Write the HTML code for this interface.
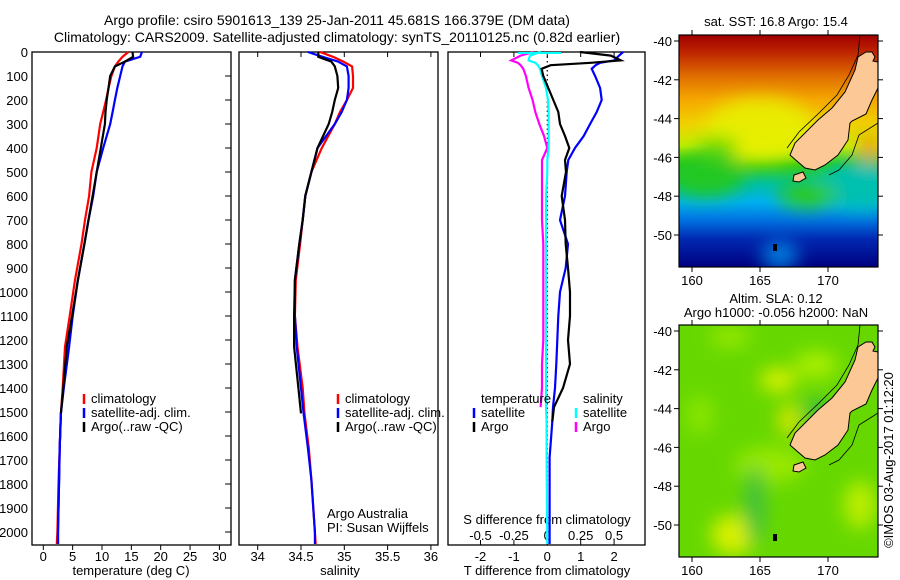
<!DOCTYPE html>
<html><head><meta charset="utf-8"><style>
html,body{margin:0;padding:0;background:#fff;}
svg{display:block;font-family:"Liberation Sans",sans-serif;}
text{font-size:13px;fill:#000;}
</style></head><body>
<svg id="chart" width="900" height="580" viewBox="0 0 900 580">
<defs>
<linearGradient id="sstg" x1="0" y1="0" x2="0" y2="1">
<stop offset="0" stop-color="#a00000"/><stop offset="0.08" stop-color="#c02800"/>
<stop offset="0.18" stop-color="#e07000"/><stop offset="0.28" stop-color="#f5a800"/>
<stop offset="0.38" stop-color="#f0d000"/><stop offset="0.48" stop-color="#c8f000"/>
<stop offset="0.56" stop-color="#30cc10"/><stop offset="0.64" stop-color="#00c0a0"/>
<stop offset="0.72" stop-color="#00b0f0"/><stop offset="0.8" stop-color="#0070e0"/>
<stop offset="0.88" stop-color="#0028b0"/><stop offset="1" stop-color="#000080"/>
</linearGradient>
<filter id="blur" x="-50%" y="-50%" width="200%" height="200%"><feGaussianBlur stdDeviation="9"/></filter>
<clipPath id="m1"><rect x="679" y="35" width="199" height="232"/></clipPath>
<clipPath id="m2"><rect x="679" y="325" width="199" height="232"/></clipPath>
</defs>
<g id="titles">
<text x="337" y="25" text-anchor="middle" style="font-size:14px">Argo profile: csiro 5901613_139 25-Jan-2011 45.681S 166.379E (DM data)</text>
<text x="337" y="42" text-anchor="middle" style="font-size:14px">Climatology: CARS2009. Satellite-adjusted climatology: synTS_20110125.nc (0.82d earlier)</text>
</g>
<g id="plots"></g>
<g id="maps"></g>
</svg>
<script>
// ---- data ----
const depthsTS = [0,20,40,60,100,150,200,250,300,400,500,600,700,800,950,1100,1228,1400,1506,1650,1783,2000,2050];
const tempClim = [14.5,13.5,12.8,12.2,11.6,11.1,10.7,10.2,9.7,9.1,8.2,7.8,7.1,6.5,5.4,4.5,3.7,3.3,3.0,2.8,2.6,2.4,2.3];
const tempSat  = [16.8,16.5,13.9,13.5,13.1,12.6,12.2,11.8,11.4,10.2,9.1,8.5,7.7,7.0,5.9,5.0,4.4,3.5,3.0,2.8,2.7,2.5,2.5];
const tempArgo = [15.2,15.3,13.9,12.2,11.4,11.1,10.8,10.6,10.5,9.8,9.1,8.4,7.7,7.0,5.9,4.9,4.0,3.4,3.0,null,null,null,null];
const salClim  = [34.72,34.87,34.99,35.09,35.10,35.10,35.03,34.95,34.89,34.74,34.62,34.55,34.52,34.49,34.44,34.43,34.46,34.52,34.54,34.59,34.62,34.66,34.67];
const salSat   = [34.58,34.75,34.93,35.03,35.05,35.05,35.03,34.97,34.89,34.69,34.62,34.55,34.52,34.48,34.43,34.43,34.45,34.50,34.53,34.58,34.62,34.66,34.66];
const salArgo  = [34.70,34.70,34.85,34.89,34.92,34.93,34.89,34.86,34.82,34.69,34.62,34.55,34.52,34.48,34.43,34.42,34.42,34.47,34.50,null,null,null,null];
const depthsDiff = [0,15,35,45,55,70,100,150,200,250,300,350,400,450,500,600,700,800,900,1000,1100,1200,1300,1400,1480,1540,1690,2050];
const tDiffSat  = [2.27,2.15,2.0,1.58,1.45,1.33,1.43,1.58,1.63,1.48,1.28,1.09,0.83,0.63,0.58,0.53,0.38,0.62,0.55,0.38,0.33,0.3,0.27,0.23,0.17,0.15,0.07,0.07];
const tDiffArgo = [0.98,1.9,2.2,1.3,0.1,-0.17,-0.12,0.03,0.18,0.33,0.38,0.53,0.66,0.53,0.56,0.43,0.53,0.55,0.62,0.68,0.68,0.62,0.68,0.47,0.2,0.15,null,null];
const sDiffSat  = [-0.05,-0.13,-0.14,-0.09,-0.07,-0.055,-0.04,-0.01,0.005,0.01,0.01,0.01,0.01,0,0,-0.01,-0.01,-0.01,-0.01,-0.01,-0.01,-0.01,-0.01,-0.01,-0.01,-0.005,-0.005,0];
const sDiffArgo = [-0.1,-0.2,-0.27,-0.22,-0.2,-0.18,-0.16,-0.14,-0.11,-0.09,-0.06,-0.025,0,-0.04,-0.04,-0.04,-0.04,-0.03,-0.03,-0.03,-0.03,-0.03,-0.04,-0.04,-0.05,null,null,null];
const depthTicks = [0,100,200,300,400,500,600,700,800,900,1000,1100,1200,1300,1400,1500,1600,1700,1800,1900,2000];
const tempTicks = [0,5,10,15,20,25,30];
const salTicks = [34,34.5,35,35.5,36];
const salTickLabels = ["34","34.5","35","35.5","36"];
const tdTicks = [-2,-1,0,1,2];
const sdTicks = [-0.5,-0.25,0,0.25,0.5];
const sdTickLabels = ["-0.5","-0.25","0","0.25","0.5"];
const latTicks = [-40,-42,-44,-46,-48,-50];
const lonTicks = [160,165,170];

// ---- helpers ----
const NS="http://www.w3.org/2000/svg";
function mk(tag,attrs,parent,txt){const e=document.createElementNS(NS,tag);for(const k in attrs)e.setAttribute(k,attrs[k]);if(txt!==undefined)e.textContent=txt;parent.appendChild(e);return e;}
const plots=document.getElementById('plots');
const yDepth=d=>52+0.24*d;
const xTemp=t=>43.3+5.87*t;
const xSal=s=>257.7+86.6*(s-34);
const xTd=t=>547.3+33.4*t;
const xSd=s=>547.3+133.6*s;
const TOP=52,BOT=545;

function frame(x0,x1,name){
  const r=mk('rect',{x:x0,y:TOP,width:x1-x0,height:BOT-TOP,fill:'none',stroke:'#000','stroke-width':1.3},plots);
  
  
}
function line(depths,vals,xf,color,name){
  let pts=[];
  for(let i=0;i<depths.length;i++){if(vals[i]===null||vals[i]===undefined)continue;pts.push(xf(vals[i]).toFixed(1)+','+yDepth(Math.min(depths[i],2054)).toFixed(1));}
  const p=mk('polyline',{points:pts.join(' '),fill:'none',stroke:color,'stroke-width':2.2,'stroke-linejoin':'miter'},plots);
  
  
}
function legendItem(x,y,color,label,name){
  const g=mk('g',{},plots);
  
  
  if(color) mk('line',{x1:x,y1:y-9,x2:x,y2:y+1,stroke:color,'stroke-width':2.5},g);
  mk('text',{x:x+7,y:y},g,label);
}

// panel 1
frame(32,231,'temperature-panel');
depthTicks.forEach(d=>{
  const t=mk('text',{x:28,y:yDepth(d)+5,'text-anchor':'end'},plots,String(d));
  
  
  mk('line',{x1:231,y1:yDepth(d),x2:225,y2:yDepth(d),stroke:'#000'},plots);
});
tempTicks.forEach(v=>{
  mk('line',{x1:xTemp(v),y1:BOT,x2:xTemp(v),y2:BOT+5,stroke:'#000'},plots);
  const t=mk('text',{x:xTemp(v),y:BOT+16,'text-anchor':'middle'},plots,String(v));
  
  
});
mk('text',{x:131,y:575,'text-anchor':'middle',},plots,'temperature (deg C)');
line(depthsTS,tempClim,xTemp,'#ff0000','temp-climatology-line');
line(depthsTS,tempSat,xTemp,'#0000ff','temp-satellite-line');
line(depthsTS,tempArgo,xTemp,'#000000','temp-argo-line');
line(depthsTS,tempSat.map((v,i)=>depthsTS[i]>=1506?v:null),xTemp,'#0000ff','temp-satellite-line-deep');
legendItem(84,403,'#ff0000','climatology','temp-legend-climatology');
legendItem(84,417,'#0000ff','satellite-adj. clim.','temp-legend-satellite');
legendItem(84,431,'#000000','Argo(..raw -QC)','temp-legend-argo');

// panel 2
frame(239,438,'salinity-panel');
salTicks.forEach((v,i)=>{
  mk('line',{x1:xSal(v),y1:BOT,x2:xSal(v),y2:BOT+5,stroke:'#000'},plots);
  mk('line',{x1:xSal(v),y1:TOP,x2:xSal(v),y2:TOP+5,stroke:'#000'},plots);
  const t=mk('text',{x:xSal(v),y:BOT+16,'text-anchor':'middle'},plots,salTickLabels[i]);
  
  
});
mk('text',{x:340,y:575,'text-anchor':'middle',},plots,'salinity');
line(depthsTS,salClim,xSal,'#ff0000','sal-climatology-line');
line(depthsTS,salSat,xSal,'#0000ff','sal-satellite-line');
line(depthsTS,salArgo,xSal,'#000000','sal-argo-line');
legendItem(338,403,'#ff0000','climatology','sal-legend-climatology');
legendItem(338,417,'#0000ff','satellite-adj. clim.','sal-legend-satellite');
legendItem(338,431,'#000000','Argo(..raw -QC)','sal-legend-argo');
mk('text',{x:327,y:518,},plots,'Argo Australia');
mk('text',{x:327,y:532,},plots,'PI: Susan Wijffels');

// panel 3
frame(448,645,'difference-panel');
mk('line',{x1:xTd(0),y1:TOP,x2:xTd(0),y2:BOT,stroke:'#000','stroke-width':1.2,'stroke-dasharray':'1.5,3',},plots);
tdTicks.forEach(v=>{
  mk('line',{x1:xTd(v),y1:BOT,x2:xTd(v),y2:BOT-5,stroke:'#000'},plots);
  mk('line',{x1:xTd(v),y1:TOP,x2:xTd(v),y2:TOP+5,stroke:'#000'},plots);
  const t=mk('text',{x:xTd(v),y:BOT+16,'text-anchor':'middle'},plots,String(v));
  
  
});
sdTicks.forEach((v,i)=>{
  const t=mk('text',{x:xSd(v),y:540,'text-anchor':'middle'},plots,sdTickLabels[i]);
  
  
});
mk('text',{x:547,y:524,'text-anchor':'middle',},plots,'S difference from climatology');
mk('text',{x:547,y:575,'text-anchor':'middle',},plots,'T difference from climatology');
line(depthsDiff,sDiffArgo,xSd,'#ff00ff','sdiff-argo-line');
line(depthsDiff,sDiffSat,xSd,'#00ffff','sdiff-satellite-line');
line(depthsDiff,tDiffSat,xTd,'#0000ff','tdiff-satellite-line');
line(depthsDiff,tDiffArgo,xTd,'#000000','tdiff-argo-line');
mk('line',{x1:518,y1:yDepth(0)+1,x2:561,y2:yDepth(0)+1,stroke:'#00ffff','stroke-width':2},plots);
legendItem(474,403,null,'temperature','diff-legend-temperature');
legendItem(474,417,'#0000ff','satellite','diff-legend-t-satellite');
legendItem(474,431,'#000000','Argo','diff-legend-t-argo');
legendItem(576,403,null,'salinity','diff-legend-salinity');
legendItem(576,417,'#00ffff','satellite','diff-legend-s-satellite');
legendItem(576,431,'#ff00ff','Argo','diff-legend-s-argo');

// ---- maps ----
const maps=document.getElementById('maps');
const land=[[187,17],[193,17],[196,22],[194,26],[199,27],[199,53],[193,65],[187,79],[173,86],[171,88],[169,105],[159,120],[146,130],[136,135],[126,133],[119,127],[111,120],[116,108],[129,95],[139,85],[153,73],[166,57],[176,35],[179,22]];
function drawMap(oy,kind){
  const g=mk('g',{'clip-path':'url(#m'+kind+')'},maps);
  
  
  if(kind===1){
    mk('rect',{x:679,y:oy,width:199,height:232,fill:'url(#sstg)'},g);
    const b=mk('g',{filter:'url(#blur)'},g);
    mk('ellipse',{cx:760,cy:oy+95,rx:55,ry:32,fill:'#e8f000','opacity':0.9},b);
    mk('ellipse',{cx:705,cy:oy+140,rx:40,ry:22,fill:'#20c820'},b);
    mk('ellipse',{cx:718,cy:oy+112,rx:20,ry:10,fill:'#60d800'},b);
    mk('ellipse',{cx:860,cy:oy+150,rx:40,ry:25,fill:'#00c0b0'},b);
    mk('ellipse',{cx:870,cy:oy+112,rx:12,ry:14,fill:'#f0a000'},b);
    mk('ellipse',{cx:808,cy:oy+160,rx:30,ry:12,fill:'#30cc10'},b);
    mk('ellipse',{cx:780,cy:oy+220,rx:18,ry:14,fill:'#0080e0'},b);
  } else {
    mk('rect',{x:679,y:oy,width:199,height:232,fill:'#66d800'},g);
    const b=mk('g',{filter:'url(#blur)'},g);
    [[730,12,20,10,'#99e800'],[778,55,18,12,'#d8f000'],[816,40,22,14,'#a8ee00'],[789,95,10,16,'#e0e800'],[733,210,22,20,'#d8f000'],[770,140,35,18,'#99e800'],[860,180,16,24,'#bbee00'],[817,85,12,10,'#30b850'],[755,180,10,40,'#40c040'],[700,90,14,20,'#88e400']].forEach(e=>{
      mk('ellipse',{cx:e[0],cy:oy+e[1],rx:e[2],ry:e[3],fill:e[4]},b);
    });
  }
  const pts=land.map(p=>(679+p[0])+','+(oy+p[1])).join(' ');
  mk('polygon',{points:pts,fill:'#fcc896',stroke:'#000','stroke-width':1},g);
  mk('polyline',{points:[[181,0],[179,20],[170,40],[158,60],[140,78],[120,97],[108,113]].map(p=>(679+p[0])+','+(oy+p[1])).join(' '),fill:'none',stroke:'#000','stroke-width':0.8},g);
  mk('polyline',{points:[[199,88],[180,100],[173,120],[160,135],[150,140]].map(p=>(679+p[0])+','+(oy+p[1])).join(' '),fill:'none',stroke:'#000','stroke-width':0.8},g);
  mk('polygon',{points:[[115,140],[124,137],[127,143],[120,147],[114,146]].map(p=>(679+p[0])+','+(oy+p[1])).join(' '),fill:'#fcc896',stroke:'#000','stroke-width':1},g);
  mk('rect',{x:773,y:oy+209,width:4,height:7,fill:'#000'},g);
  const fr=mk('rect',{x:679,y:oy,width:199,height:232,fill:'none',stroke:'#000','stroke-width':1.2},maps);
  
  
  const yLat=l=>oy+6+19.4*(-40-l);
  const xLon=l=>692+13.6*(l-160);
  latTicks.forEach(l=>{
    mk('line',{x1:679,y1:yLat(l),x2:674,y2:yLat(l),stroke:'#000'},maps);
    mk('line',{x1:878,y1:yLat(l),x2:883,y2:yLat(l),stroke:'#000'},maps);
    const t=mk('text',{x:672,y:yLat(l)+5,'text-anchor':'end'},maps,String(l));
    
    
  });
  lonTicks.forEach(l=>{
    mk('line',{x1:xLon(l),y1:oy,x2:xLon(l),y2:oy-5,stroke:'#000'},maps);
    mk('line',{x1:xLon(l),y1:oy+232,x2:xLon(l),y2:oy+237,stroke:'#000'},maps);
    const t=mk('text',{x:xLon(l),y:oy+250,'text-anchor':'middle'},maps,String(l));
    
    
  });
}
drawMap(35,1);
drawMap(325,2);
mk('text',{x:776,y:26,'text-anchor':'middle',},maps,'sat. SST: 16.8 Argo: 15.4');
mk('text',{x:776,y:303,'text-anchor':'middle',},maps,'Altim. SLA: 0.12');
mk('text',{x:776,y:317,'text-anchor':'middle',},maps,'Argo h1000: -0.056 h2000: NaN');
mk('text',{x:893,y:460,'text-anchor':'middle',transform:'rotate(-90 893 460)',},maps,'©IMOS 03-Aug-2017 01:12:20');
</script>
</body></html>
